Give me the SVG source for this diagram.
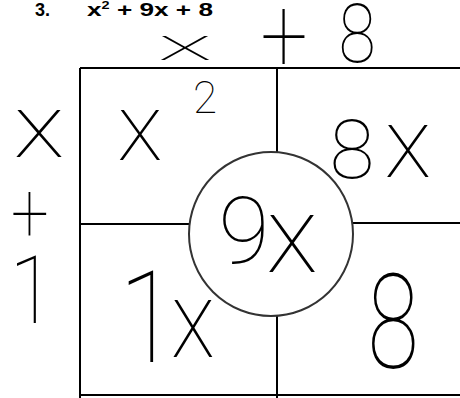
<svg xmlns="http://www.w3.org/2000/svg" width="460" height="398" viewBox="0 0 460 398">
<style>
.hw{font-family:Roboto,"Open Sans","DejaVu Sans",sans-serif;font-weight:100;fill:#000}
.hd{font-family:"Liberation Sans",Arial,sans-serif;font-weight:bold;fill:#000}
.ln{stroke:#000;stroke-width:2;fill:none}
</style>
<rect width="460" height="398" fill="#fff"/>
<g id="header">
<text class="hd" x="35" y="16" font-size="18">3.</text>
<text class="hd" x="87" y="16" font-size="18" textLength="126" lengthAdjust="spacingAndGlyphs">x<tspan font-size="10" dy="-7">2</tspan><tspan dy="7"> + 9x + 8</tspan></text>
</g>
<g id="connectors">
<line class="ln" x1="80" y1="68" x2="460" y2="68"/>
<line class="ln" x1="80" y1="68" x2="80" y2="398"/>
<line class="ln" x1="80" y1="395" x2="460" y2="395"/>
<line class="ln" x1="277" y1="68" x2="277" y2="152"/>
<line class="ln" x1="277" y1="316" x2="277" y2="398"/>
<line class="ln" x1="80" y1="224" x2="189" y2="224"/>
<line class="ln" x1="353" y1="223" x2="460" y2="223"/>
</g>
<g id="circle">
<circle cx="271" cy="234" r="82" fill="none" stroke="#333" stroke-width="2"/>
</g>
<g id="top-label">
<text class="hw" transform="translate(185,60) scale(2.6,1)" font-size="44" text-anchor="middle">x</text>
<text class="hw" transform="translate(284,72) scale(1,1.25)" font-size="84" text-anchor="middle">+</text>
<text class="hw" transform="translate(357,62) scale(1,1.2)" font-size="68" text-anchor="middle">8</text>
</g>
<g id="left-label">
<text class="hw" transform="translate(39,157) scale(1.2,1)" font-size="89" text-anchor="middle">x</text>
<text class="hw" transform="translate(30,242) scale(0.8,1)" font-size="84" text-anchor="middle">+</text>
<text class="hw" transform="translate(32,323) scale(1,1.15)" font-size="82" text-anchor="middle">1</text>
</g>
<g id="cell-x2">
<text class="hw" x="140" y="160" font-size="95" text-anchor="middle">x</text>
<text class="hw" x="205" y="113" font-size="44" text-anchor="middle">2</text>
</g>
<g id="cell-8x">
<text class="hw" x="352" y="178" font-size="82" text-anchor="middle">8</text>
<text class="hw" x="408" y="177" font-size="98" text-anchor="middle">x</text>
</g>
<g id="cell-9x">
<text class="hw" x="244" y="263" font-size="93" text-anchor="middle">9</text>
<text class="hw" x="292" y="272" font-size="108" text-anchor="middle">x</text>
</g>
<g id="cell-1x">
<text class="hw" transform="translate(148,362) scale(1,1.2)" font-size="106" text-anchor="middle">1</text>
<text class="hw" transform="translate(193,357) scale(0.85,1)" font-size="108" text-anchor="middle">x</text>
</g>
<g id="cell-8">
<text class="hw" transform="translate(393,368) scale(0.82,1.15)" font-size="114" text-anchor="middle">8</text>
</g>
</svg>
